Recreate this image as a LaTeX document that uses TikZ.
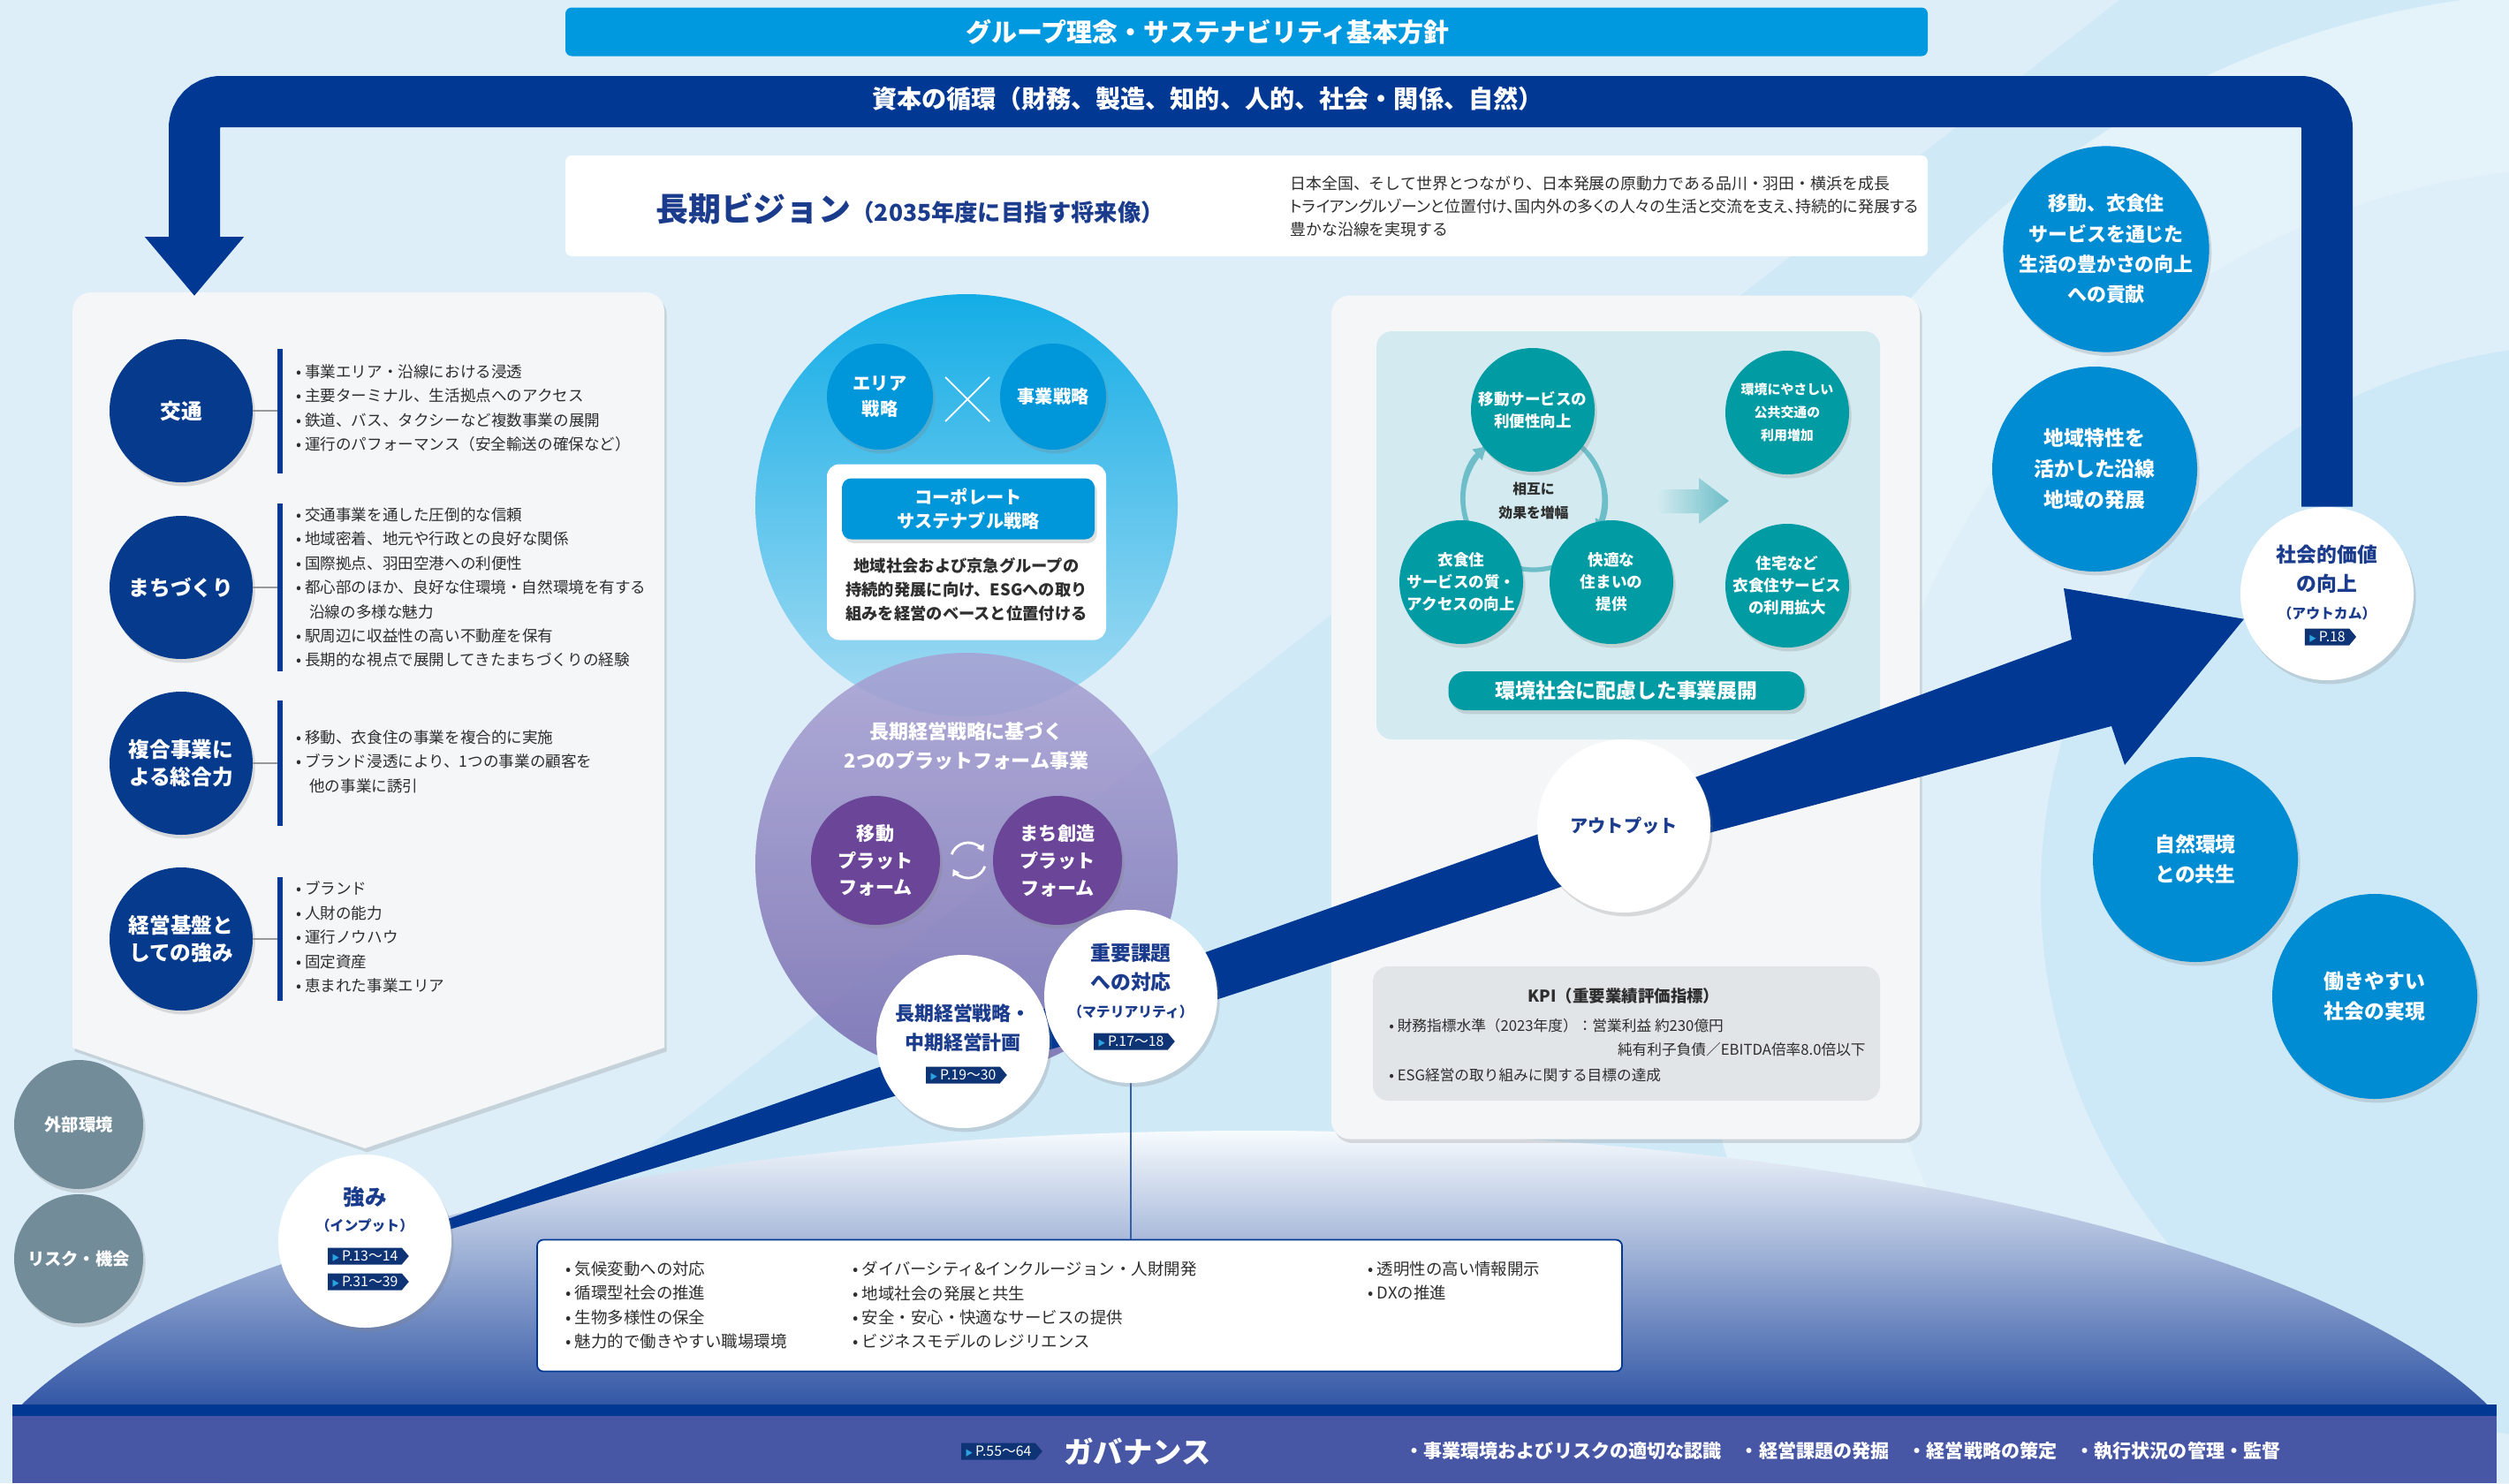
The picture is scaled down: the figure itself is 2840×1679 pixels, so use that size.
\documentclass[tikz,border=0pt]{standalone}
\usepackage{fontspec}
\setmainfont{Noto Sans CJK JP}
\newfontfamily\jpprop{Noto Sans CJK JP}[RawFeature=+palt]
\usepackage{xcolor}
\usetikzlibrary{shapes.symbols,shadows,arrows.meta,positioning}
\definecolor{bgblue}{HTML}{DDEEF9}
\definecolor{capnavy}{HTML}{003894}
\definecolor{topblue}{HTML}{0099DF}
\definecolor{panelgrey}{HTML}{F4F6F8}
\definecolor{textgrey}{HTML}{2E2E2E}
\definecolor{strongnavy}{HTML}{053A8C}
\definecolor{areablue}{HTML}{0096DA}
\definecolor{skytop}{HTML}{14ADE6}
\definecolor{skybottom}{HTML}{A6DCF3}
\definecolor{plattop}{HTML}{A8A1D2}
\definecolor{platbottom}{HTML}{7469AE}
\definecolor{platdark}{HTML}{6A4598}
\definecolor{titlenavy}{HTML}{1B3C8C}
\definecolor{envteal}{HTML}{009BA3}
\definecolor{envlight}{HTML}{D3EBF0}
\definecolor{envarrow}{HTML}{6DBEC8}
\definecolor{kpigrey}{HTML}{E2E5E8}
\definecolor{valueblue}{HTML}{008CD3}
\definecolor{riskgrey}{HTML}{728C9A}
\definecolor{govblue}{HTML}{4757A6}
\definecolor{domeblue}{HTML}{2D52A3}
\definecolor{tagnavy}{HTML}{0E3475}
\definecolor{tagcyan}{HTML}{2BA3E0}
\pgfdeclarelayer{front}
\pgfsetlayers{main,front}

\begin{document}
\begin{tikzpicture}[x=0.2mm,y=-0.2mm,
  soft/.style={drop shadow={shadow xshift=1.5pt,shadow yshift=-2.5pt,opacity=0.25}},
  strength/.style={circle,fill=strongnavy,text=white,minimum size=162*0.2mm,inner sep=0pt,align=center,font=\fontsize{13.5}{18}\selectfont\bfseries,soft},
  bar/.style={rectangle,fill=capnavy,minimum width=6*0.2mm,inner sep=0pt},
  bullets/.style={anchor=west,align=left,text=textgrey,inner sep=0pt,font=\fontsize{10}{15.6}\selectfont},
  strategy/.style={circle,fill=areablue,text=white,minimum size=120*0.2mm,inner sep=0pt,align=center,font=\fontsize{11.5}{16}\selectfont\bfseries,soft},
  platform/.style={circle,fill=platdark,text=white,minimum size=146*0.2mm,inner sep=0pt,align=center,font=\fontsize{12}{17.6}\selectfont\bfseries,soft},
  envcircle/.style={circle,fill=envteal,text=white,minimum size=140*0.2mm,inner sep=0pt,align=center,font=\fontsize{10}{14.3}\selectfont\bfseries,soft},
  valuecircle/.style={circle,fill=valueblue,text=white,minimum size=232*0.2mm,inner sep=0pt,align=center,font=\fontsize{12.5}{19.5}\selectfont\bfseries,soft},
  riskcircle/.style={circle,fill=riskgrey,text=white,minimum size=146*0.2mm,inner sep=0pt,align=center,font=\fontsize{11}{14}\selectfont\bfseries,soft},
  keycircle/.style={circle,fill=white,minimum size=196*0.2mm,inner sep=0pt,soft},
  keytext/.style={text=titlenavy,align=center,inner sep=0pt,font=\fontsize{12.5}{18.8}\selectfont\bfseries},
  keysub/.style={text=titlenavy,inner sep=0pt,font=\fontsize{9}{10}\selectfont\bfseries},
  pagetag/.style={signal,signal to=east,signal pointer angle=100,fill=tagnavy,text=white,inner xsep=2.5pt,inner ysep=0.5pt,minimum height=19*0.2mm,font=\fontsize{9}{10}\selectfont},
  ring/.style={envarrow,line width=3pt}
]
\useasboundingbox (0,0) rectangle (2840,1679);
\fill[bgblue] (0,0) rectangle (2840,1679);
\fill[skybottom,opacity=0.25] (246,1679) -- (2399,0) -- (2840,0) -- (2840,1679) -- cycle;
\fill[white,opacity=0.45] (2930,1010) circle (1020);
\fill[bgblue,opacity=0.6] (2930,1010) circle (820);
\fill[skybottom,opacity=0.3] (2930,1010) circle (620);
\begin{scope}
  \clip (1420,1720) ellipse (1460 and 440);
  \shade[top color=white!75!bgblue,bottom color=domeblue] (0,1280) rectangle (2840,1600);
\end{scope}
\fill[capnavy] (14,1590) rectangle (2826,1603);
\fill[govblue] (14,1603) rectangle (2826,1679);

\begin{pgfonlayer}{front}
\node[keycircle] (input) at (413,1405) {};
\node[keytext,font=\fontsize{14}{16}\selectfont\bfseries] (inputlbl) at (413,1355) {強み};
\node[keysub] (inputsub) at (413,1387) {（インプット）};
\node[pagetag] (inputtaga) at (413,1422) {\textcolor{tagcyan}{\fontsize{5}{5}\selectfont ▶}\,P.13〜14};
\node[pagetag] (inputtagb) at (413,1451) {\textcolor{tagcyan}{\fontsize{5}{5}\selectfont ▶}\,P.31〜39};
\node[keycircle] (plan) at (1090,1179) {};
\node[keytext] (planlbl) at (1090,1164) {長期経営戦略・\\中期経営計画};
\node[pagetag] (plantag) at (1090,1217) {\textcolor{tagcyan}{\fontsize{5}{5}\selectfont ▶}\,P.19〜30};
\node[keycircle] (materiality) at (1280,1128) {};
\node[keytext,font=\fontsize{13}{18.8}\selectfont\bfseries] (materialitylbl) at (1280,1095) {重要課題\\への対応};
\node[keysub] (materialitysub) at (1280,1145) {（マテリアリティ）};
\node[pagetag] (materialitytag) at (1280,1179) {\textcolor{tagcyan}{\fontsize{5}{5}\selectfont ▶}\,P.17〜18};
\node[keycircle] (output) at (1838,935) {};
\node[keytext,font=\fontsize{11.5}{14}\selectfont\bfseries] (outputlbl) at (1838,935) {アウトプット};
\node[keycircle] (value) at (2634,672) {};
\node[keytext,font=\fontsize{13}{18.8}\selectfont\bfseries] (valuelbl) at (2634,644) {社会的価値\\の向上};
\node[keysub] (valuesub) at (2634,694) {（アウトカム）};
\node[pagetag] (valuetag) at (2634,721) {\textcolor{tagcyan}{\fontsize{5}{5}\selectfont ▶}\,P.18};
\end{pgfonlayer}

\node[fill=topblue,rounded corners=4pt,minimum width=1542*0.2mm,minimum height=55*0.2mm] (policy) at (1411,36) {};
\node[text=white,font=\fontsize{16.5}{18}\selectfont\bfseries] (policytext) at (1367,36) {グループ理念・サステナビリティ基本方針};
\node[fill=white,rounded corners=4pt,minimum width=1542*0.2mm,minimum height=114*0.2mm] (vision) at (1411,233) {};
\node[text=titlenavy,font=\fontsize{21}{23}\selectfont\bfseries] (visiontitle) at (1030,236) {長期ビジョン{\fontsize{15}{17}\selectfont（2035年度に目指す将来像）}};
\node[anchor=west,align=left,text=textgrey,inner sep=0pt,font=\fontsize{10.2}{14.8}\selectfont] (visiontext) at (1460,234) {日本全国、そして世界とつながり、日本発展の原動力である品川・羽田・横浜を成長\\{\jpprop トライアングルゾーンと位置付け、国内外の多くの人々の生活と交流を支え、持続的に発展する}\\豊かな沿線を実現する};

\fill[panelgrey,soft] (82,760) [rounded corners=12pt] -- (82,331) -- (752,331) [sharp corners] -- (752,1186) -- (413,1300) -- (82,1186) -- cycle;
\coordinate (loopright) at (2634,115);
\coordinate (loopleft) at (220,115);
\coordinate (loopend) at (220,335);
\draw[capnavy,line width=58*0.2mm,rounded corners=6mm,-{Triangle[length=13.4mm,width=21.6mm]}] (value.north) -- (loopright) -- (loopleft) -- (loopend);
\node[text=white,font=\fontsize{16}{18}\selectfont\bfseries] (capital) at (1367,112) {資本の循環（財務、製造、知的、人的、社会・関係、自然）};

\node[strength] (traffic) at (205,465) {交通};
\node[strength] (town) at (205,665) {まちづくり};
\node[strength] (synergy) at (205,864) {複合事業に\\よる総合力};
\node[strength] (base) at (205,1063) {経営基盤と\\しての強み};
\node[bar,minimum height=141*0.2mm] (trafficbar) at (317,465) {};
\node[bar,minimum height=190*0.2mm] (townbar) at (317,665) {};
\node[bar,minimum height=142*0.2mm] (synergybar) at (317,864) {};
\node[bar,minimum height=140*0.2mm] (basebar) at (317,1063) {};
\foreach \grp in {traffic,town,synergy,base}
  \draw[gray!80,line width=0.8pt] (\grp) -- (\grp bar);
\node[bullets] (trafficlist) at (335,462) {• 事業エリア・沿線における浸透\\• 主要ターミナル、生活拠点へのアクセス\\• 鉄道、バス、タクシーなど複数事業の展開\\• 運行のパフォーマンス（安全輸送の確保など）};
\node[bullets] (townlist) at (335,665) {• 交通事業を通した圧倒的な信頼\\• 地域密着、地元や行政との良好な関係\\• 国際拠点、羽田空港への利便性\\• 都心部のほか、良好な住環境・自然環境を有する\\\hspace*{0.85em}沿線の多様な魅力\\• 駅周辺に収益性の高い不動産を保有\\• 長期的な視点で展開してきたまちづくりの経験};
\node[bullets] (synergylist) at (335,862) {• 移動、衣食住の事業を複合的に実施\\• ブランド浸透により、1つの事業の顧客を\\\hspace*{0.85em}他の事業に誘引};
\node[bullets] (baselist) at (335,1061) {• ブランド\\• 人財の能力\\• 運行ノウハウ\\• 固定資産\\• 恵まれた事業エリア};

\node[riskcircle] (external) at (89,1273) {外部環境};
\node[riskcircle] (risk) at (89,1425) {リスク・機会};

\node[circle,minimum size=478*0.2mm,inner sep=0pt,top color=skytop,bottom color=skybottom] (strategyball) at (1094,572) {};
\node[circle,minimum size=478*0.2mm,inner sep=0pt,top color=plattop,bottom color=platbottom,fill opacity=0.85] (platformball) at (1094,978) {};
\node[strategy] (area) at (996,449) {エリア\\戦略};
\node[strategy] (business) at (1192,449) {事業戦略};
\draw[white,line width=1pt] (1070,427) -- (1120,477) (1070,477) -- (1120,427);
\node[fill=white,rounded corners=8pt,minimum width=316*0.2mm,minimum height=199*0.2mm,inner sep=0pt] (csframe) at (1094,625) {};
\node[fill=areablue,rounded corners=6pt,minimum width=286*0.2mm,minimum height=69*0.2mm,text=white,align=center,font=\fontsize{11.5}{15.5}\selectfont\bfseries,soft] (corporate) at (1096,576) {コーポレート\\サステナブル戦略};
\node[text=textgrey,align=center,font=\fontsize{10.4}{15.4}\selectfont\bfseries] (csnote) at (1094,667) {地域社会および京急グループの\\持続的発展に向け、ESGへの取り\\組みを経営のベースと位置付ける};
\node[text=white,align=center,font=\fontsize{12.5}{18.8}\selectfont\bfseries] (platformtitle) at (1094,845) {長期経営戦略に基づく\\2つのプラットフォーム事業};
\node[platform] (mobility) at (991,974) {移動\\プラット\\フォーム};
\node[platform] (towndev) at (1197,974) {まち創造\\プラット\\フォーム};
\draw[white,line width=1.6pt,-{Triangle[length=4pt,width=5pt]}] ([shift={(200:20)}]1096,974) arc (200:330:20);
\draw[white,line width=1.6pt,-{Triangle[length=4pt,width=5pt]}] ([shift={(20:20)}]1096,974) arc (20:150:20);

\node[fill=panelgrey,rounded corners=12pt,minimum width=666*0.2mm,minimum height=955*0.2mm,inner sep=0pt,soft] (envpanel) at (1840,812) {};
\node[fill=envlight,rounded corners=10pt,minimum width=570*0.2mm,minimum height=462*0.2mm,inner sep=0pt] (envbox) at (1843,606) {};
\draw[ring] (1736,565) circle (80);
\draw[ring,-{Triangle[length=8pt,width=9pt]}] ([shift={(160:80)}]1736,565) arc (160:228:80);
\draw[ring,-{Triangle[length=8pt,width=9pt]}] ([shift={(320:80)}]1736,565) arc (320:388:80);
\node[envcircle] (mobilityup) at (1735,464) {移動サービスの\\利便性向上};
\node[envcircle] (lifeup) at (1654,659) {衣食住\\サービスの質・\\アクセスの向上};
\node[envcircle] (housing) at (1824,659) {快適な\\住まいの\\提供};
\node[envcircle,font=\fontsize{8.5}{15}\selectfont\bfseries] (greentransit) at (2023,467) {環境にやさしい\\公共交通の\\利用増加};
\node[envcircle] (lifeuse) at (2023,663) {住宅など\\衣食住サービス\\の利用拡大};
\node[text=textgrey,align=center,font=\fontsize{9}{15.5}\selectfont\bfseries] (mutual) at (1736,567) {相互に\\効果を増幅};
\shade[left color=envlight,right color=envarrow] (1875,554) -- (1923,554) -- (1923,541) -- (1957,567) -- (1923,593) -- (1923,581) -- (1875,581) -- cycle;
\node[fill=envteal,rounded corners=11pt,minimum width=403*0.2mm,minimum height=44*0.2mm,text=white,font=\fontsize{13}{15}\selectfont\bfseries,soft] (envbanner) at (1841,782) {環境社会に配慮した事業展開};
\node[fill=kpigrey,rounded corners=10pt,minimum width=574*0.2mm,minimum height=152*0.2mm,inner sep=0pt] (kpibox) at (1841,1170) {};
\node[text=textgrey,font=\fontsize{10.5}{12}\selectfont\bfseries] (kpititle) at (1838,1127) {KPI（重要業績評価指標）};
\node[anchor=west,text=textgrey,inner sep=0pt,font=\fontsize{9.5}{12}\selectfont] (kpione) at (1572,1161) {• 財務指標水準（2023年度）：営業利益 約230億円};
\node[anchor=east,text=textgrey,inner sep=0pt,font=\fontsize{9.5}{12}\selectfont] (kpitwo) at (2112,1188) {純有利子負債／EBITDA倍率8.0倍以下};
\node[anchor=west,text=textgrey,inner sep=0pt,font=\fontsize{9.5}{12}\selectfont] (kpithree) at (1572,1217) {• ESG経営の取り組みに関する目標の達成};

\node[valuecircle] (richlife) at (2384,282) {移動、衣食住\\サービスを通じた\\生活の豊かさの向上\\への貢献};
\node[valuecircle,font=\fontsize{13}{20}\selectfont\bfseries] (region) at (2371,531) {地域特性を\\活かした沿線\\地域の発展};
\node[valuecircle,font=\fontsize{13}{19.5}\selectfont\bfseries] (nature) at (2485,973) {自然環境\\との共生};
\node[valuecircle,font=\fontsize{13}{19.5}\selectfont\bfseries] (workstyle) at (2688,1128) {働きやすい\\社会の実現};

\fill[capnavy] (input.15) -- (1376,1074) -- (1739,945) -- (1938,873) -- (2345,724) -- (2336,666) -- (value.197) -- (2405,866) -- (2390,822) -- (1938,942) -- (1739,1014) -- (1376,1132) -- (input.8) -- cycle;

\node[draw=capnavy,line width=1pt,fill=white,rounded corners=4pt,minimum width=1228*0.2mm,minimum height=149*0.2mm,inner sep=0pt] (issuebox) at (1222,1478) {};
\draw[capnavy!80,line width=0.6pt] (materiality.south) -- (materiality.south |- issuebox.north);
\node[anchor=north west,align=left,text=textgrey,inner sep=0pt,font=\fontsize{10.5}{15.4}\selectfont] (envissues) at (640,1428) {• 気候変動への対応\\• 循環型社会の推進\\• 生物多様性の保全\\• 魅力的で働きやすい職場環境};
\node[anchor=north west,align=left,text=textgrey,inner sep=0pt,font=\fontsize{10.5}{15.4}\selectfont] (socialissues) at (965,1428) {• ダイバーシティ\&インクルージョン・人財開発\\• 地域社会の発展と共生\\• 安全・安心・快適なサービスの提供\\• ビジネスモデルのレジリエンス};
\node[anchor=north west,align=left,text=textgrey,inner sep=0pt,font=\fontsize{10.5}{15.4}\selectfont] (govissues) at (1548,1428) {• 透明性の高い情報開示\\• DXの推進};

\node[pagetag] (govtag) at (1130,1643) {\textcolor{tagcyan}{\fontsize{5}{5}\selectfont ▶}\,P.55〜64};
\node[right=4.8mm of govtag,text=white,inner sep=0pt,font=\fontsize{19}{21}\selectfont\bfseries] (governance) {ガバナンス};
\node[anchor=west,text=white,inner sep=0pt,font=\fontsize{12}{13}\selectfont\bfseries] (govpoints) at (1590,1643) {・事業環境およびリスクの適切な認識\quad ・経営課題の発掘\quad ・経営戦略の策定\quad ・執行状況の管理・監督};
\end{tikzpicture}
\end{document}
